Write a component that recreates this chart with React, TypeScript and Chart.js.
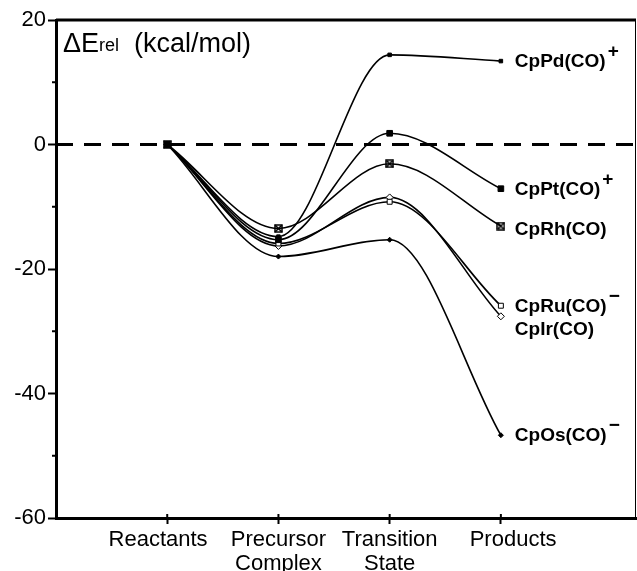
import React, { useEffect, useRef } from "react";
import { Chart, registerables } from "chart.js";

Chart.register(...registerables);

const categories: (string | string[])[] = [
  "Reactants\u00a0\u00a0\u00a0",
  ["Precursor", "Complex"],
  ["Transition", "State"],
  "\u00a0\u00a0\u00a0\u00a0Products",
];
const categoryPositions = [1, 2, 3, 4];
const yTicks = [-60, -40, -20, 0, 20];
const yMinorTicks = [-50, -30, -10, 10];

const seriesNames = ["CpPd(CO)", "CpPt(CO)", "CpRh(CO)", "CpRu(CO)", "CpIr(CO)", "CpOs(CO)"];
const seriesCharges = ["+", "+", "", "\u2212", "", "\u2212"];

const cpPd = [0, -14.8, 14.4, 13.4];
const cpPt = [0, -15.3, 1.8, -7.1];
const cpRh = [0, -13.5, -3.1, -13.1];
const cpRu = [0, -15.9, -9.2, -25.9];
const cpIr = [0, -16.3, -8.5, -27.6];
const cpOs = [0, -18.0, -15.3, -46.7];

const seriesValues = [cpPd, cpPt, cpRh, cpRu, cpIr, cpOs];

const FONT = "'Liberation Sans', Arial, Helvetica, sans-serif";

function makeXBox(): HTMLCanvasElement {
  const c = document.createElement("canvas");
  c.width = 9;
  c.height = 9;
  const g = c.getContext("2d")!;
  g.strokeStyle = "#000";
  g.lineWidth = 1.5;
  g.strokeRect(1, 1, 7, 7);
  g.beginPath();
  g.moveTo(1, 1);
  g.lineTo(8, 8);
  g.moveTo(8, 1);
  g.lineTo(1, 8);
  g.stroke();
  return c;
}

export default function App() {
  const ref = useRef<HTMLCanvasElement | null>(null);

  useEffect(() => {
    if (!ref.current) return;
    const xbox = makeXBox();
    const styles: any[] = [
      { pointStyle: "rect", pointRadius: 2.5, bg: "#000" },
      { pointStyle: "rect", pointRadius: 4, bg: "#000" },
      { pointStyle: xbox, pointRadius: 4, bg: "#000" },
      { pointStyle: "rect", pointRadius: 3.5, bg: "#fff" },
      { pointStyle: "rectRot", pointRadius: 3.5, bg: "#fff" },
      { pointStyle: "rectRot", pointRadius: 2.5, bg: "#000" },
    ];
    const labelDy = [0, 0, 3, 0, 12, 0];

    const datasets = seriesValues.map((vals, i) => ({
      label: seriesNames[i],
      data: vals.map((v, j) => ({ x: categoryPositions[j], y: v })),
      borderColor: "#000",
      borderWidth: 1.6,
      backgroundColor: styles[i].bg,
      pointBackgroundColor: styles[i].bg,
      pointBorderColor: "#000",
      pointBorderWidth: 1,
      pointStyle: styles[i].pointStyle,
      pointRadius: styles[i].pointRadius,
      cubicInterpolationMode: "monotone",
      tension: 0.4,
      fill: false,
    }));

    const decor = {
      id: "decor",
      beforeDatasetsDraw(chart: any) {
        const { ctx, chartArea, scales } = chart;
        const y0 = scales.y.getPixelForValue(0);
        ctx.save();
        ctx.strokeStyle = "#000";
        ctx.lineWidth = 3;
        ctx.setLineDash([17, 11]);
        ctx.beginPath();
        ctx.moveTo(chartArea.left, y0);
        ctx.lineTo(chartArea.right, y0);
        ctx.stroke();
        ctx.setLineDash([]);
        // top border
        ctx.lineWidth = 3;
        ctx.beginPath();
        ctx.moveTo(chartArea.left, chartArea.top);
        ctx.lineTo(chartArea.right, chartArea.top);
        ctx.stroke();
        // right border
        ctx.lineWidth = 1;
        ctx.beginPath();
        ctx.moveTo(chartArea.right - 0.5, chartArea.top);
        ctx.lineTo(chartArea.right - 0.5, chartArea.bottom);
        ctx.stroke();
        // minor y ticks
        ctx.lineWidth = 2;
        yMinorTicks.forEach((v) => {
          const py = scales.y.getPixelForValue(v);
          ctx.beginPath();
          ctx.moveTo(chartArea.left - 4, py);
          ctx.lineTo(chartArea.left, py);
          ctx.stroke();
        });
        // x ticks crossing inside
        categoryPositions.forEach((v) => {
          const px = scales.x.getPixelForValue(v);
          ctx.beginPath();
          ctx.moveTo(px, chartArea.bottom - 4);
          ctx.lineTo(px, chartArea.bottom);
          ctx.stroke();
        });
        // y title
        ctx.fillStyle = "#000";
        ctx.textBaseline = "alphabetic";
        ctx.textAlign = "left";
        let x = chartArea.left + 7;
        const base = chartArea.top + 32;
        ctx.font = `27px ${FONT}`;
        ctx.fillText("\u0394E", x, base);
        x += ctx.measureText("\u0394E").width;
        ctx.font = `18px ${FONT}`;
        ctx.fillText("rel", x, base - 1);
        x += ctx.measureText("rel").width;
        ctx.font = `27px ${FONT}`;
        ctx.fillText("  (kcal/mol)", x, base);
        ctx.restore();
      },
      afterDatasetsDraw(chart: any) {
        const { ctx } = chart;
        ctx.save();
        ctx.fillStyle = "#000";
        ctx.textAlign = "left";
        ctx.textBaseline = "middle";
        chart.data.datasets.forEach((ds: any, i: number) => {
          const meta = chart.getDatasetMeta(i);
          const pt = meta.data[meta.data.length - 1];
          const x = pt.x + 14;
          const y = pt.y + labelDy[i];
          ctx.font = `bold 19px ${FONT}`;
          ctx.fillText(seriesNames[i], x, y + 1);
          const w = ctx.measureText(seriesNames[i]).width;
          if (seriesCharges[i]) {
            ctx.font = `bold 19px ${FONT}`;
            ctx.fillText(seriesCharges[i], x + w + 2, y - 9);
          }
        });
        ctx.restore();
      },
    };

    const chart = new Chart(ref.current, {
      type: "line",
      data: { datasets },
      options: {
        responsive: false,
        animation: false,
        layout: { autoPadding: false, padding: { top: 20, right: 1, left: 0, bottom: 0 } },
        plugins: { legend: { display: false }, tooltip: { enabled: false } },
        scales: {
          x: {
            type: "linear",
            min: 0,
            max: 5.215,
            afterBuildTicks: (scale: any) => {
              scale.ticks = categoryPositions.map((v) => ({ value: v }));
            },
            afterFit: (scale: any) => {
              scale.height = 53;
            },
            ticks: {
              autoSkip: false,
              maxRotation: 0,
              color: "#000",
              font: { family: FONT, size: 22, lineHeight: 1.1 },
              padding: 4,
              callback: (v: any) => {
                const idx = categoryPositions.indexOf(Number(v));
                return idx >= 0 ? (categories[idx] as any) : "";
              },
            },
            grid: {
              display: true,
              drawOnChartArea: false,
              drawTicks: true,
              tickLength: 6,
              tickWidth: 2,
              tickColor: "#000",
              color: "#000",
            },
            border: { display: true, color: "#000", width: 3 },
          },
          y: {
            type: "linear",
            min: -60,
            max: 20,
            afterBuildTicks: (scale: any) => {
              scale.ticks = yTicks.map((v) => ({ value: v }));
            },
            afterFit: (scale: any) => {
              scale.width = 56;
            },
            ticks: {
              color: "#000",
              font: { family: FONT, size: 22 },
              padding: 2,
              callback: (v: any) => String(v),
            },
            grid: {
              display: true,
              drawOnChartArea: false,
              drawTicks: true,
              tickLength: 8,
              tickWidth: 2,
              tickColor: "#000",
              color: "#000",
            },
            border: { display: true, color: "#000", width: 3 },
          },
        },
      },
      plugins: [decor],
    } as any);

    return () => chart.destroy();
  }, []);

  return (
    <div style={{ position: "absolute", left: 0, top: 0, width: 637, height: 571, background: "#fff" }}>
      <canvas ref={ref} width={637} height={571} style={{ display: "block" }} />
    </div>
  );
}
